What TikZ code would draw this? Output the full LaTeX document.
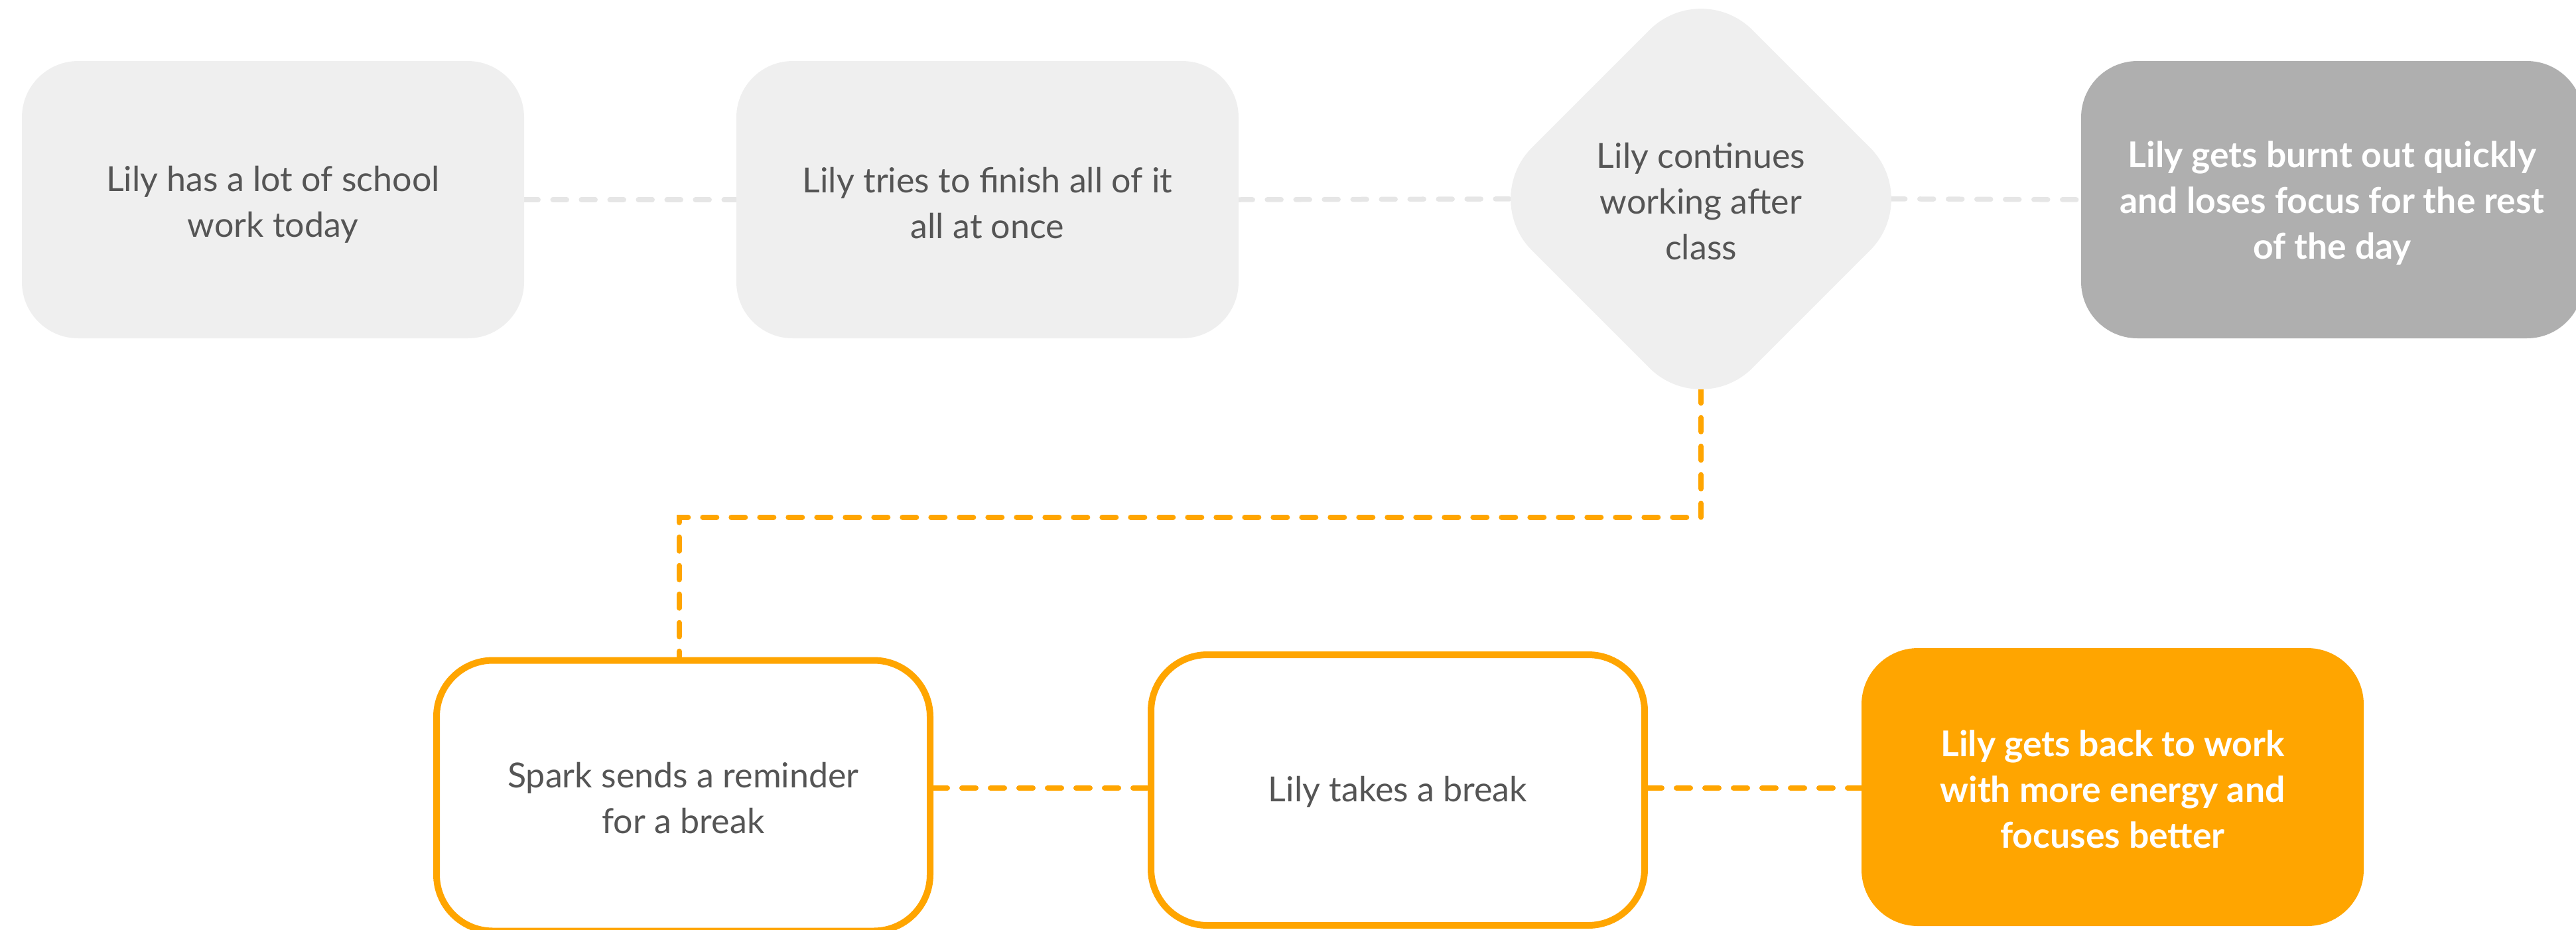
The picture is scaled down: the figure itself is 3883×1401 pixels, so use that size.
\documentclass[tikz,border=0pt]{standalone}
\usepackage{fontspec}
\setmainfont{Lato}
\usetikzlibrary{shapes.geometric,backgrounds}
\definecolor{boxgrey}{RGB}{239,239,239}
\definecolor{darkgrey}{RGB}{175,175,175}
\definecolor{conngrey}{RGB}{230,230,230}
\definecolor{orng}{RGB}{255,165,0}
\definecolor{textgrey}{RGB}{85,85,85}
\newcommand\liftline[1]{\rule{0pt}{#1pt}}
\tikzset{
  base/.style={rounded corners=85pt, inner sep=0pt, align=center,
    font=\fontsize{52pt}{69pt}\selectfont},
  boldbase/.style={base, font=\fontsize{53.5pt}{69pt}\selectfont\bfseries},
  greybox/.style={base, fill=boxgrey, text=textgrey, minimum width=757pt, minimum height=418pt},
  darkbox/.style={boldbase, fill=darkgrey, text=white, minimum width=757pt, minimum height=418pt},
  outlinebox/.style={base, draw=orng, line width=10pt, fill=white, text=textgrey,
    minimum width=744pt, minimum height=408pt},
  fillbox/.style={boldbase, fill=orng, text=white, minimum width=757pt, minimum height=419pt},
  decision/.style={diamond, aspect=1, rounded corners=110pt, fill=boxgrey, text=textgrey,
    minimum width=665pt, minimum height=665pt, inner sep=0pt, align=center,
    font=\fontsize{52pt}{69pt}\selectfont},
  greyconn/.style={draw=conngrey, line width=7.5pt, line cap=round, dash pattern=on 21pt off 22pt},
  orangeconn/.style={draw=orng, line width=8pt, line cap=round, dash pattern=on 21pt off 22pt},
}
\begin{document}
\begin{tikzpicture}[x=1pt,y=-1pt]
\useasboundingbox (0,0) rectangle (3883,1401);
\clip (0,0) rectangle (3883,1401);

\node[greybox] (b1) at (411.5,301) {\liftline{53}Lily has a lot of school\\work today};
\node[greybox] (b2) at (1488.5,301) {\liftline{49}Lily tries to finish all of it\\all at once};
\node[decision] (d) at (2564,300) {\liftline{46}Lily continues\\working after\\class};
\node[darkbox] (b4) at (3515.5,301) {\liftline{50}Lily gets burnt out quickly\\and loses focus for the rest\\of the day};
\node[outlinebox] (b5) at (1030,1199.5) {\liftline{45}Spark sends a reminder\\for a break};
\node[outlinebox] (b6) at (2107,1191) {\liftline{43}Lily takes a break};
\node[fillbox] (b7) at (3184.5,1186.5) {\liftline{47}Lily gets back to work\\with more energy and\\focuses better};

\coordinate (turn) at (1024,780);
\coordinate (rowb) at (0,1188);

\begin{pgfonlayer}{background}
\draw[greyconn] (b1.east) -- (b2.west);
\draw[greyconn, shorten >=-46pt] (b2.east) -- (d.west);
\draw[greyconn, shorten <=-46pt] (d.east) -- (b4.west);
\draw[orangeconn, shorten <=-46pt] (d.south) |- (turn) -- (turn |- b5.north);
\draw[orangeconn] (b5.east |- rowb) -- (b6.west |- rowb);
\draw[orangeconn] (b6.east |- rowb) -- (b7.west |- rowb);
\end{pgfonlayer}
\end{tikzpicture}
\end{document}
